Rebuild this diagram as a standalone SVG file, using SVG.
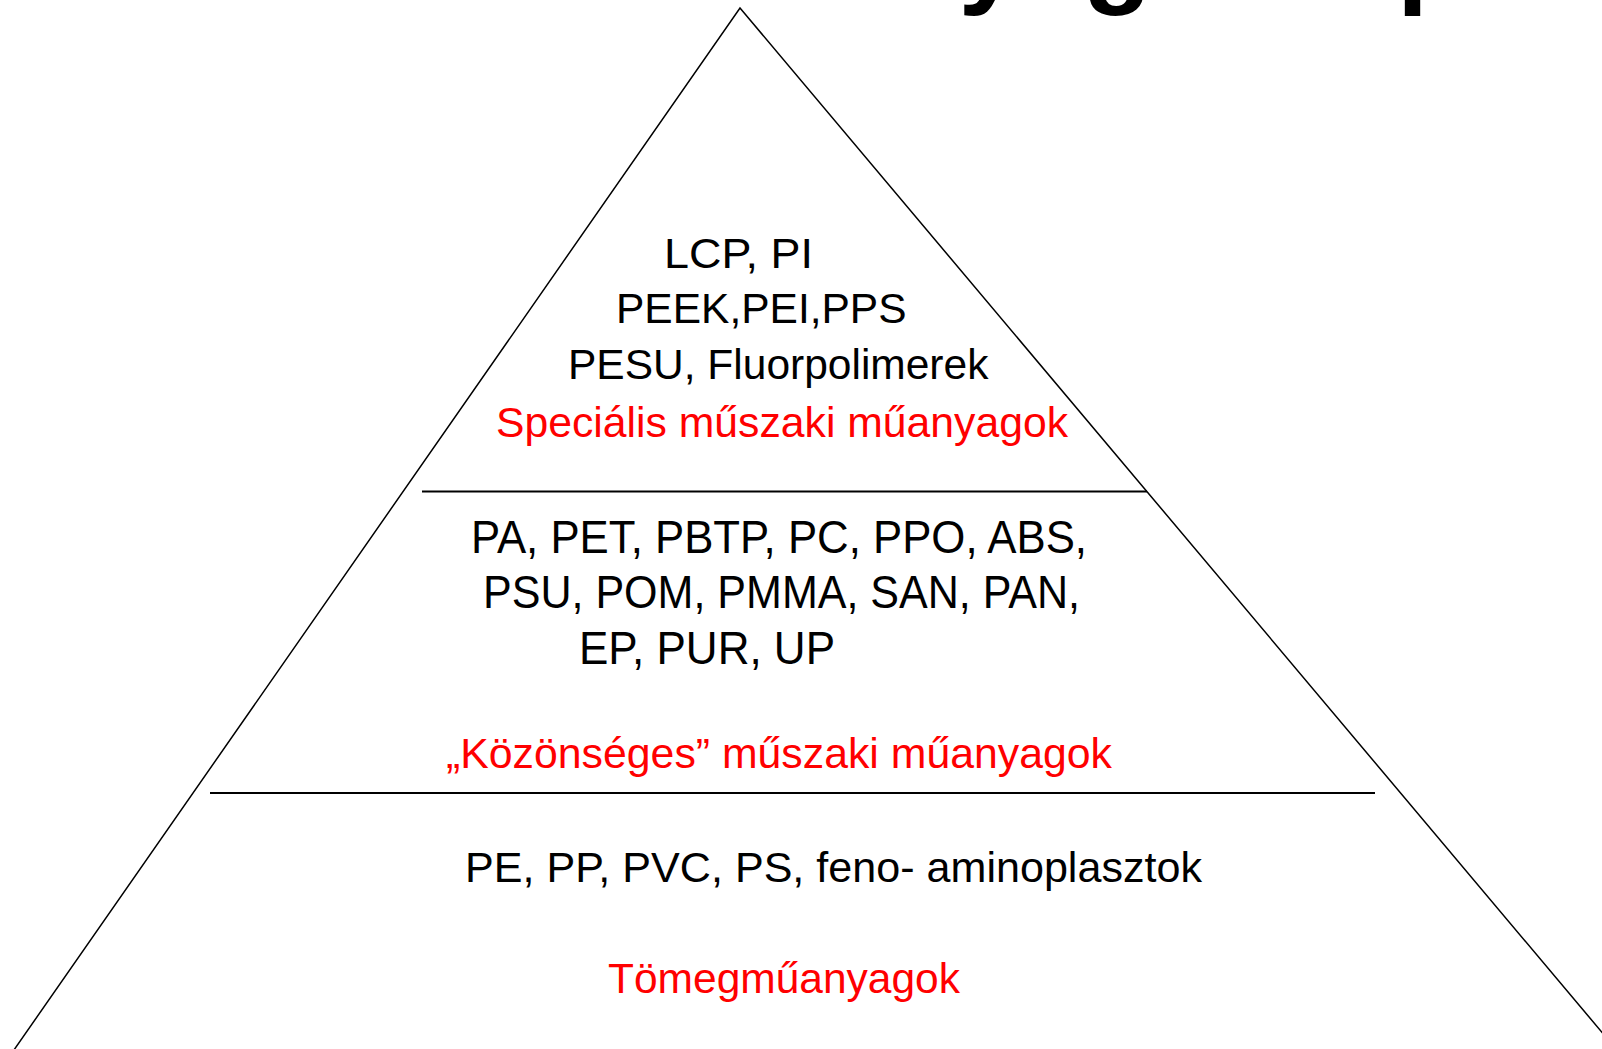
<svg xmlns="http://www.w3.org/2000/svg" width="1602" height="1049" viewBox="0 0 1602 1049">
<style>
.t{font-family:"Liberation Sans",Arial,sans-serif;font-size:42.5px;fill:#000}
.m{font-size:46px}
.r{fill:#ff0000}
.ln{stroke:#000;fill:none}
.title{font-family:"Liberation Sans",Arial,sans-serif;font-weight:bold;font-size:112px;fill:#000}
</style>
<rect width="1602" height="1049" fill="#fff"/>
<g id="title"><text class="title" x="666" y="-7">Műanyagok<tspan x="1397">piramisa</tspan></text></g>
<g id="connectors">
<polyline class="ln" stroke-width="1.5" points="0,1070 740,8 1616,1049"/>
<line class="ln" stroke-width="2" x1="422" y1="491.5" x2="1147" y2="491.5"/>
<line class="ln" stroke-width="2" x1="210" y1="793" x2="1375" y2="793"/>
</g>
<g id="node-special">
<text class="t" x="664" y="268" textLength="149" lengthAdjust="spacingAndGlyphs">LCP, PI</text>
<text class="t" x="616" y="323">PEEK,PEI,PPS</text>
<text class="t" x="568" y="379">PESU, Fluorpolimerek</text>
<text class="t r" x="496" y="437" textLength="572" lengthAdjust="spacingAndGlyphs">Speciális műszaki műanyagok</text>
</g>
<g id="node-common">
<text class="t m" x="471" y="553" textLength="616" lengthAdjust="spacingAndGlyphs">PA, PET, PBTP, PC, PPO, ABS,</text>
<text class="t m" x="483" y="608" textLength="597" lengthAdjust="spacingAndGlyphs">PSU, POM, PMMA, SAN, PAN,</text>
<text class="t m" x="579" y="664" textLength="256" lengthAdjust="spacingAndGlyphs">EP, PUR, UP</text>
<text class="t r" x="446" y="768" textLength="666" lengthAdjust="spacingAndGlyphs">„Közönséges” műszaki műanyagok</text>
</g>
<g id="node-mass">
<text class="t" x="465" y="882" textLength="737" lengthAdjust="spacingAndGlyphs">PE, PP, PVC, PS, feno- aminoplasztok</text>
<text class="t r" x="608" y="993">Tömegműanyagok</text>
</g>
</svg>
